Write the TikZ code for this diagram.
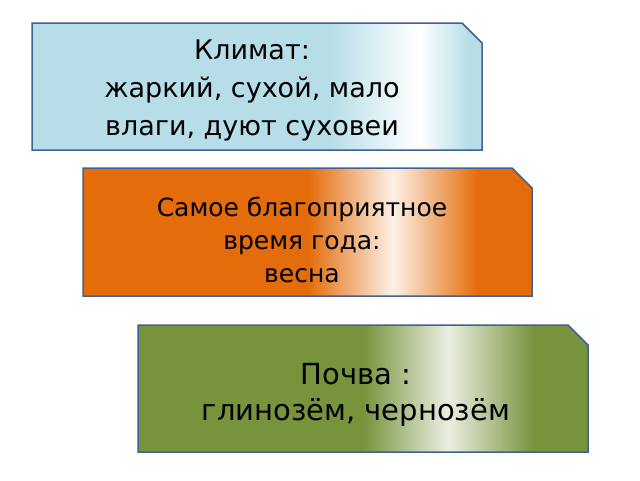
\documentclass[tikz,border=0pt]{standalone}
\usepackage{fontspec}
\setmainfont{DejaVu Sans}
\definecolor{cb}{HTML}{B7DEE8}
\definecolor{co}{HTML}{E46C0A}
\definecolor{cg}{HTML}{77933C}
\definecolor{edge}{HTML}{41628F}
\pgfdeclarehorizontalshading{shb}{100bp}{color(0bp)=(cb); color(58bp)=(cb); color(68bp)=(white); color(73.5bp)=(cb); color(100bp)=(cb)}
\pgfdeclarehorizontalshading{sho}{100bp}{color(0bp)=(co); color(50bp)=(co); color(59.5bp)=(white!90!co); color(69bp)=(co); color(100bp)=(co)}
\pgfdeclarehorizontalshading{shg}{100bp}{color(0bp)=(cg); color(50bp)=(cg); color(59.5bp)=(white!85!cg); color(69bp)=(cg); color(100bp)=(cg)}
\tikzset{card/.style={draw=edge,line width=1.5pt},
 txt/.style={align=center,text=black}}
\newcommand{\cardshape}[5]{\draw[card,shading=#5] (#1,#2) -- (#3-20,#2) -- (#3,#2+20) -- (#3,#4) -- (#1,#4) -- cycle;}
\begin{document}
\begin{tikzpicture}[x=1pt,y=-1pt]
\useasboundingbox (0,0) rectangle (640,480);
\cardshape{32}{23}{482}{150}{shb}
\cardshape{83}{168}{532}{296}{sho}
\cardshape{138}{325}{588}{452}{shg}
\node[txt,font=\fontsize{27}{38}\selectfont] (k) at (252,90) {Климат:\\жаркий, сухой, мало\\влаги, дуют суховеи};
\node[txt,font=\fontsize{25}{33}\selectfont] (v) at (302,240) {Самое благоприятное\\время года:\\весна};
\node[txt,font=\fontsize{29}{36}\selectfont] (p) at (356,395) {Почва :\\глинозём, чернозём};
\end{tikzpicture}
\end{document}
